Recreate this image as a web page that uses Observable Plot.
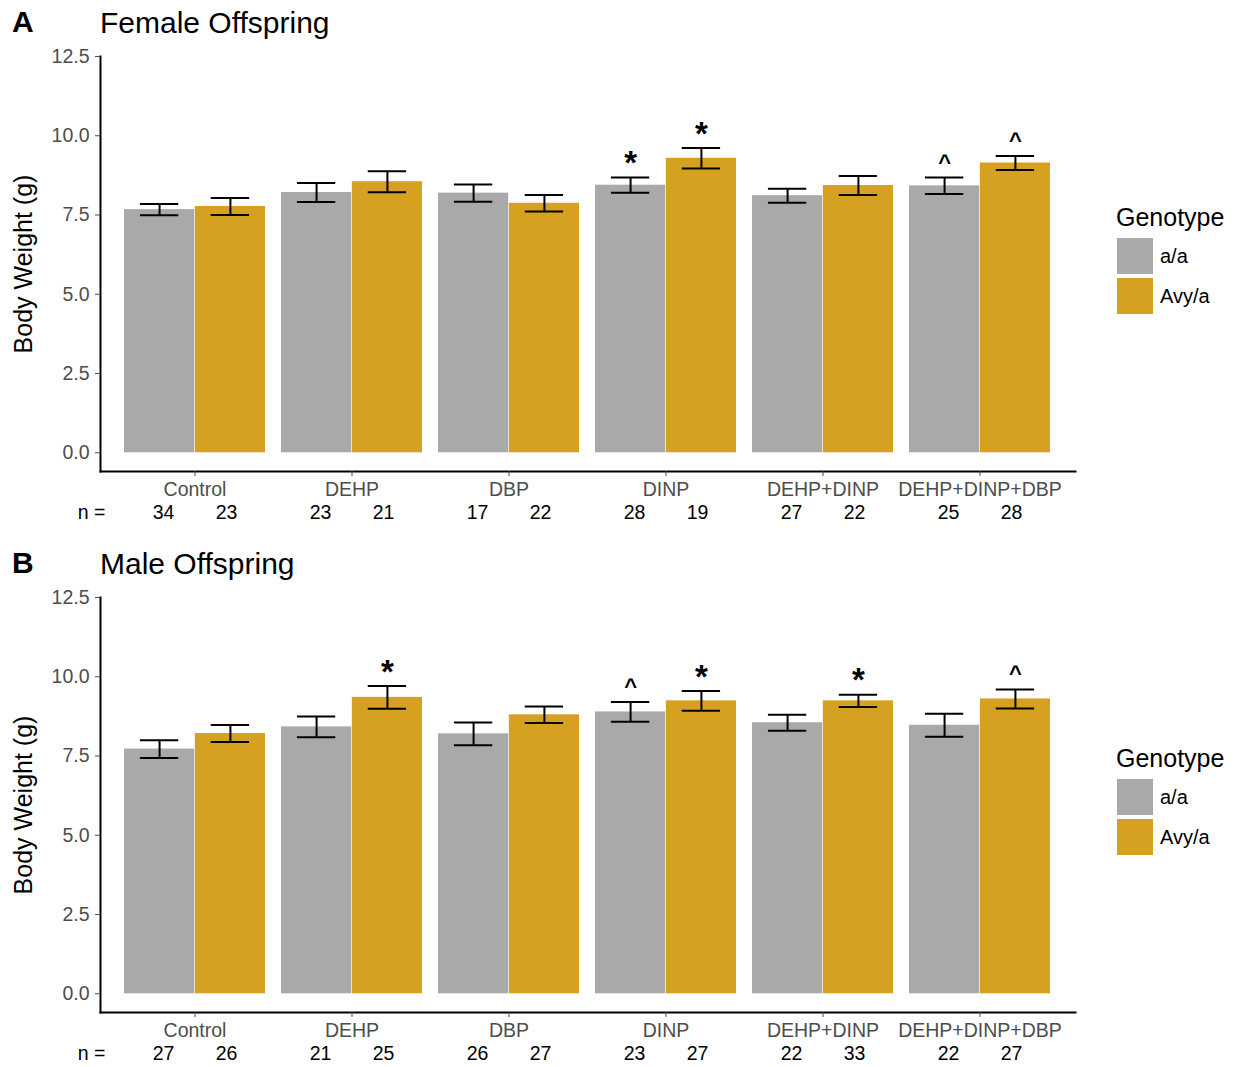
<!DOCTYPE html>
<html>
<head>
<meta charset="utf-8">
<script src="https://cdn.jsdelivr.net/npm/d3@7"></script>
<script src="https://cdn.jsdelivr.net/npm/@observablehq/plot@0.6"></script>
<style>
  html, body { margin: 0; padding: 0; background: #fff; }
  body { font-family: "Liberation Sans", Arial, Helvetica, sans-serif; }
  #page { position: relative; width: 1238px; height: 1067px; overflow: hidden; }
  .panel { position: absolute; left: 0; width: 1238px; height: 541px; }
  .tag { position: absolute; left: 12px; top: 7px; font-size: 30px; font-weight: bold; line-height: 1; color: #000; }
  .title { position: absolute; left: 100px; top: 8px; font-size: 30px; line-height: 1; color: #000; }
  .chart { position: absolute; left: 0; top: 40px; }
  .legend { position: absolute; left: 1116px; top: 205px; color: #000; }
  .legend .ltitle { font-size: 25px; line-height: 1; margin-bottom: 8px; }
  .legend .item { display: flex; align-items: center; height: 36px; margin-bottom: 4px; margin-left: 1px; }
  .legend .sw { width: 36px; height: 36px; margin-right: 7px; }
  .legend .lab { font-size: 20px; }
</style>
</head>
<body>
<div id="page"></div>
<script>
// Treatment groups along the x axis
const treatments = ["Control", "DEHP", "DBP", "DINP", "DEHP+DINP", "DEHP+DINP+DBP"];
const genotypes = ["a/a", "Avy/a"];
const genotypeColors = ["#A9A9A9", "#D6A020"];
const yTicks = [0, 2.5, 5, 7.5, 10, 12.5];

// Female offspring: mean body weight (g), standard error, group size, significance mark
const femaleAaMean = [7.67, 8.21, 8.19, 8.44, 8.11, 8.42];
const femaleAaSE = [0.18, 0.30, 0.27, 0.24, 0.22, 0.26];
const femaleAaN = [34, 23, 17, 28, 27, 25];
const femaleAaSig = ["", "", "", "*", "", "^"];
const femaleAvyMean = [7.77, 8.55, 7.87, 9.29, 8.43, 9.14];
const femaleAvySE = [0.27, 0.33, 0.26, 0.32, 0.30, 0.22];
const femaleAvyN = [23, 21, 22, 19, 22, 28];
const femaleAvySig = ["", "", "", "*", "", "^"];

// Male offspring
const maleAaMean = [7.72, 8.42, 8.20, 8.89, 8.55, 8.47];
const maleAaSE = [0.28, 0.33, 0.36, 0.31, 0.25, 0.36];
const maleAaN = [27, 21, 26, 23, 22, 22];
const maleAaSig = ["", "", "", "^", "", ""];
const maleAvyMean = [8.21, 9.35, 8.80, 9.24, 9.24, 9.30];
const maleAvySE = [0.27, 0.36, 0.26, 0.31, 0.19, 0.30];
const maleAvyN = [26, 25, 27, 27, 33, 27];
const maleAvySig = ["", "*", "", "*", "*", "^"];

const panels = [
  {tag: "A", title: "Female Offspring", top: 0,
   aa: [femaleAaMean, femaleAaSE, femaleAaN, femaleAaSig],
   avy: [femaleAvyMean, femaleAvySE, femaleAvyN, femaleAvySig]},
  {tag: "B", title: "Male Offspring", top: 541,
   aa: [maleAaMean, maleAaSE, maleAaN, maleAaSig],
   avy: [maleAvyMean, maleAvySE, maleAvyN, maleAvySig]}
];

const yMin = -0.59, yMax = 12.5;
const W = 1090, H = 486, mL = 100, mR = 15, mT = 16, mB = 55;
const padIn = 0.1, padOut = 0.147;
const step = (W - mL - mR) / (treatments.length - padIn + 2 * padOut);
const half = step * (1 - padIn) / 2;   // width of one genotype bar
const capW = 39;                        // error bar cap width
const capInset = (half - capW) / 2;

function rows([mean, se, n, sig]) {
  return treatments.map((t, i) => ({
    treatment: t, mean: mean[i], lo: mean[i] - se[i], hi: mean[i] + se[i], n: n[i], sig: sig[i]
  }));
}

function errorMarks(data, side) {
  const off = side * half / 2;
  const inL = side < 0 ? capInset : half + capInset;
  const inR = side < 0 ? half + capInset : capInset;
  return [
    Plot.ruleX(data, {x: "treatment", y1: "lo", y2: "hi", dx: off, stroke: "#000", strokeWidth: 2}),
    Plot.tickY(data, {x: "treatment", y: "lo", insetLeft: inL, insetRight: inR, stroke: "#000", strokeWidth: 2}),
    Plot.tickY(data, {x: "treatment", y: "hi", insetLeft: inL, insetRight: inR, stroke: "#000", strokeWidth: 2}),
    Plot.text(data.filter(d => d.sig === "*"), {x: "treatment", y: "hi", text: "sig", dx: off, dy: -14,
      fontSize: 33, fontWeight: "bold", fill: "#000"}),
    Plot.text(data.filter(d => d.sig === "^"), {x: "treatment", y: "hi", text: "sig", dx: off, dy: -15,
      fontSize: 22, fontWeight: "bold", fill: "#000"}),
    Plot.text(data, {x: "treatment", text: d => String(d.n), frameAnchor: "bottom", lineAnchor: "middle",
      dx: side * step * 0.2, dy: 41, fontSize: 19.5, fill: "#000"})
  ];
}

const page = document.getElementById("page");

for (const p of panels) {
  const aa = rows(p.aa), avy = rows(p.avy);
  const div = document.createElement("div");
  div.className = "panel";
  div.style.top = p.top + "px";
  div.innerHTML = `<div class="tag">${p.tag}</div><div class="title">${p.title}</div>`;

  const chart = Plot.plot({
    width: W, height: H,
    marginLeft: mL, marginRight: mR, marginTop: mT, marginBottom: mB,
    style: {fontFamily: "'Liberation Sans', Arial, sans-serif", background: "#fff", overflow: "visible"},
    x: {domain: treatments, paddingInner: padIn, paddingOuter: padOut, label: null},
    y: {domain: [yMin, yMax], label: null},
    marks: [
      Plot.barY(aa, {x: "treatment", y: "mean", fill: genotypeColors[0], insetRight: half, insetLeft: 0}),
      Plot.barY(avy, {x: "treatment", y: "mean", fill: genotypeColors[1], insetLeft: half, insetRight: 0}),
      ...errorMarks(aa, -1),
      ...errorMarks(avy, 1),
      Plot.frame({anchor: "bottom", stroke: "#000", strokeWidth: 2}),
      Plot.frame({anchor: "left", stroke: "#000", strokeWidth: 2}),
      Plot.axisY({ticks: yTicks, tickFormat: d3.format(".1f"), tickSize: 5, tickPadding: 6,
        fontSize: 19.5, color: "#4d4d4d", label: null}),
      Plot.text(["Body Weight (g)"], {frameAnchor: "left", textAnchor: "middle", lineAnchor: "middle",
        rotate: -90, dx: -77, fontSize: 25, fill: "#000"}),
      Plot.axisX({tickSize: 5, tickPadding: 6, fontSize: 19.5, color: "#4d4d4d", label: null}),
      Plot.text(["n ="], {frameAnchor: "bottom-left", textAnchor: "middle", lineAnchor: "middle",
        dx: -9, dy: 41, fontSize: 19.5, fill: "#000"})
    ]
  });
  chart.classList.add("chart");
  div.appendChild(chart);

  const legend = document.createElement("div");
  legend.className = "legend";
  legend.innerHTML = `<div class="ltitle">Genotype</div>` + genotypes.map((g, i) =>
    `<div class="item"><div class="sw" style="background:${genotypeColors[i]}"></div><span class="lab">${g}</span></div>`
  ).join("");
  div.appendChild(legend);
  page.appendChild(div);
}
</script>
</body>
</html>
